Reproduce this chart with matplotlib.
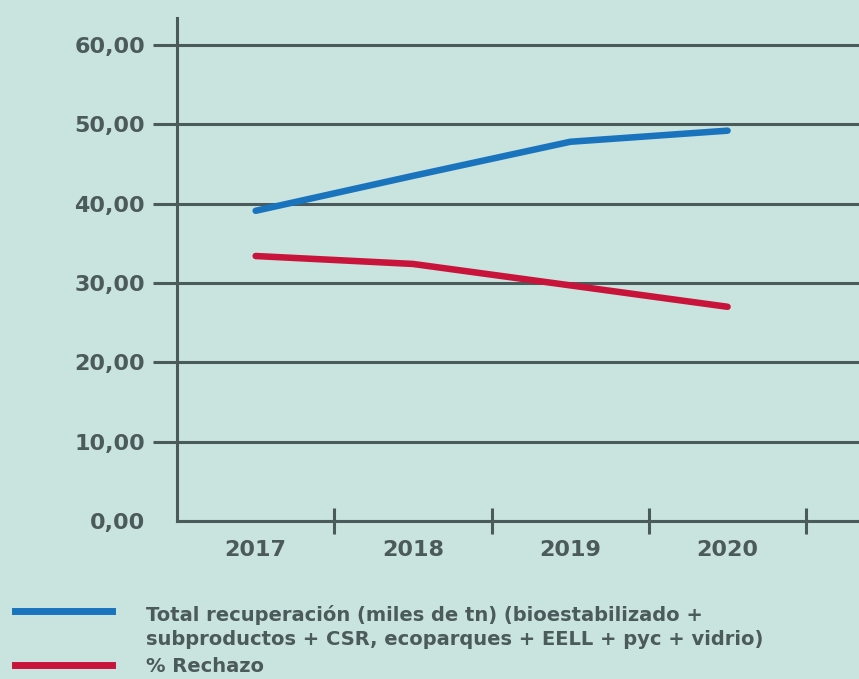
import numpy as np
from matplotlib import pyplot as plt
from matplotlib.ticker import FixedLocator

# datos
years = ['2017', '2018', '2019', '2020']
total_recuperacion = [39.1, 43.5, 47.8, 49.2]
rechazo = [33.4, 32.4, 29.7, 27.0]
y_ticks = [0, 10, 20, 30, 40, 50, 60]
legend_labels = ['Total recuperación (miles de tn) (bioestabilizado +\nsubproductos + CSR, ecoparques + EELL + pyc + vidrio)',
                 '% Rechazo']

# colores
bg = '#c9e3df'
dark = '#4b5a5a'
blue = '#1a74bd'
red = '#c8143a'

plt.rcParams['font.family'] = ['DejaVu Sans']
plt.rcParams['font.weight'] = 'bold'

fig = plt.figure(figsize=(8.59, 6.79), dpi=100, facecolor=bg)
W, H = 859, 679
ax = fig.add_axes([177 / W, 1 - 521 / H, (W - 177) / W + 0.01, (521 - 18) / H])
ax.set_facecolor(bg)

x = np.arange(len(years)) + 0.5
ax.plot(x, total_recuperacion, color=blue, lw=4.7, solid_capstyle='round', zorder=3)
ax.plot(x, rechazo, color=red, lw=4.7, solid_capstyle='round', zorder=3)

ax.set_xlim(0, (W - 177) / 157.5 + 0.06)
ax.set_ylim(0, 63.4)

# eje y
ax.set_yticks(y_ticks)
ax.set_yticklabels([f'{v:.2f}'.replace('.', ',') for v in y_ticks])
ax.tick_params(axis='y', direction='out', length=17, width=2.2, color=dark,
               labelcolor=dark, labelsize=16, pad=6)
ax.yaxis.get_major_ticks()[0].tick1line.set_visible(False)
ax.yaxis.grid(True, color=dark, lw=2.2)
ax.set_axisbelow(True)

# eje x: marcas entre categorias, etiquetas centradas
ax.xaxis.set_major_locator(FixedLocator([1, 2, 3, 4]))
ax.set_xticklabels([])
ax.xaxis.set_minor_locator(FixedLocator(list(x)))
ax.set_xticklabels(years, minor=True)
ax.tick_params(axis='x', which='major', direction='inout', length=19, width=2.2, color=dark)
ax.tick_params(axis='x', which='minor', length=0, labelcolor=dark, labelsize=16, pad=14)

for s in ['top', 'right']:
    ax.spines[s].set_visible(False)
for s in ['left', 'bottom']:
    ax.spines[s].set_color(dark)
    ax.spines[s].set_linewidth(2.2)

# leyenda
fig.add_artist(plt.Line2D([15 / W, 112 / W], [1 - 611 / H] * 2, color=blue, lw=5,
                          transform=fig.transFigure))
fig.add_artist(plt.Line2D([15 / W, 112 / W], [1 - 665 / H] * 2, color=red, lw=5,
                          transform=fig.transFigure))
fig.text(146 / W, 1 - 627 / H, legend_labels[0], color=dark, fontsize=14,
         va='center', linespacing=1.3)
fig.text(146 / W, 1 - 667 / H, legend_labels[1], color=dark, fontsize=14, va='center')

fig.savefig('out.png', dpi=100, facecolor=bg)
